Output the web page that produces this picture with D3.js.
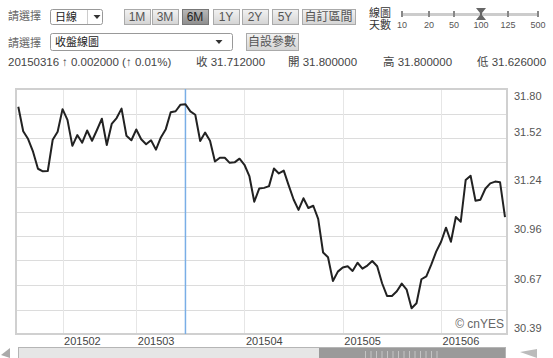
<!DOCTYPE html>
<html><head><meta charset="utf-8">
<script src="https://cdn.jsdelivr.net/npm/d3@7"></script>
<style>
html,body{margin:0;padding:0;background:#fff;}
svg{display:block;font-family:"Liberation Sans",Arial,"Noto Sans CJK TC",sans-serif;}
</style></head>
<body>
<svg id="c" width="553" height="358"></svg>
<script>
// ---- data ----
const values = [
31.698,31.557,31.512,31.439,31.341,31.326,31.328,31.508,31.554,31.684,
31.622,31.473,31.535,31.491,31.561,31.502,31.564,31.629,31.478,31.599,
31.633,31.687,31.531,31.505,31.567,31.511,31.482,31.505,31.451,31.521,
31.569,31.666,31.672,31.710,31.712,31.671,31.652,31.501,31.549,31.502,
31.383,31.404,31.404,31.375,31.378,31.399,31.364,31.299,31.151,31.227,
31.231,31.241,31.342,31.314,31.330,31.245,31.164,31.104,31.171,31.115,
31.128,31.053,30.859,30.832,30.695,30.749,30.773,30.780,30.753,30.800,
30.766,30.784,30.810,30.780,30.682,30.609,30.609,30.636,30.680,30.645,
30.538,30.567,30.705,30.722,30.789,30.864,30.921,31.002,30.921,31.063,
31.036,31.276,31.301,31.157,31.163,31.226,31.257,31.267,31.263,31.063
];
const monthLabels = ["201502","201503","201504","201505","201506"];
const monthStarts = [9,24,46,66,86];
const yTickLabels = ["31.80","31.52","31.24","30.96","30.67","30.39"];
const selectedIndex = 34;
const rangeButtons = ["1M","3M","6M","1Y","2Y","5Y"];
const activeButton = "6M";
const dayTicks = ["10","20","50","100","125","500"];
const activeDay = "100";
const infoDate = "20150316";
const infoChange = "↑ 0.002000 (↑ 0.01%)";
const infoItems = [["收","31.712000"],["開","31.800000"],["高","31.800000"],["低","31.626000"]];

const svg = d3.select("#c");
const L = 16, R = 507, T = 89, B = 334;

// ---- top controls ----
const txt = "#444";
function label(x, yy, s, opts={}) {
  return svg.append("text").attr("x", x).attr("y", yy).text(s)
    .attr("font-size", opts.size || 11).attr("fill", opts.fill || txt)
    .attr("text-anchor", opts.anchor || "start");
}
label(8, 20, "請選擇", {fill:"#666", size:11});
label(8, 47, "請選擇", {fill:"#666", size:11});

function dropdown(x, y0, w, h, s, arrowX) {
  svg.append("rect").attr("x", x+0.5).attr("y", y0+0.5).attr("width", w).attr("height", h)
    .attr("rx", 2).attr("fill", "#fff").attr("stroke", "#999");
  label(x+5, y0+h/2+4, s, {fill:"#222", size:11});
  svg.append("path").attr("d", `M${arrowX-3.5},${y0+h/2-1.5}h7l-3.5,4z`).attr("fill", "#333");
}
dropdown(50, 9, 52, 15, "日線", 97);
svg.append("line").attr("x1", 87.5).attr("x2", 87.5).attr("y1", 10).attr("y2", 24).attr("stroke", "#ccc");
dropdown(50, 33, 182, 17, "收盤線圖", 219);

const defs = svg.append("defs");
const g1 = defs.append("linearGradient").attr("id","btn").attr("x1",0).attr("x2",0).attr("y1",0).attr("y2",1);
g1.append("stop").attr("offset","0").attr("stop-color","#f2f2f2");
g1.append("stop").attr("offset","1").attr("stop-color","#d4d4d4");
const g2 = defs.append("linearGradient").attr("id","btnA").attr("x1",0).attr("x2",0).attr("y1",0).attr("y2",1);
g2.append("stop").attr("offset","0").attr("stop-color","#b8b8b8");
g2.append("stop").attr("offset","1").attr("stop-color","#8e8e8e");

function button(x, y0, w, h, s, active) {
  svg.append("rect").attr("x", x+0.5).attr("y", y0+0.5).attr("width", w).attr("height", h)
    .attr("fill", active ? "url(#btnA)" : "url(#btn)").attr("stroke", active ? "#777" : "#aaa");
  label(x+w/2, y0+h/2+4.5, s, {anchor:"middle", size: 12, fill: active ? "#222" : "#555"});
}
const btnX = [124, 152, 182, 213, 242, 272];
rangeButtons.forEach((b,i) => button(btnX[i], 9, 26, 15, b, b===activeButton));
button(302, 9, 53, 15, "自訂區間", false);
button(246, 33, 52, 17, "自設參數", false);

// slider
label(369, 17, "線圖", {fill:"#333", size:11});
label(369, 29, "天數", {fill:"#333", size:11});
const sliderX = [402, 429, 454, 481, 508, 538];
svg.append("rect").attr("x", 402).attr("y", 13).attr("width", 136).attr("height", 3).attr("fill", "#ccc");
dayTicks.forEach((d,i) => {
  svg.append("rect").attr("x", sliderX[i]-1).attr("y", 11).attr("width", 2).attr("height", 6).attr("fill", "#888");
  label(sliderX[i], 28, d, {anchor:"middle", size:9, fill:"#555"});
});
const ai = dayTicks.indexOf(activeDay);
svg.append("path").attr("d", `M${sliderX[ai]-5},8h10l-4,5v2l4,5h-10l4,-5v-2z`).attr("fill", "#666");

// info row
label(8, 66, infoDate, {size:11.5, fill:"#444"});
label(62, 66, infoChange, {size:11.5, fill:"#444"});
const infoX = [196, 288, 383, 477];
infoItems.forEach((it,i) => {
  label(infoX[i], 66, it[0] + " " + it[1], {size:11.5, fill:"#444"});
});

// ---- chart ----
const x = d3.scaleLinear().domain([0, values.length-1]).range([18.3, 505]);
const y = d3.scaleLinear().domain([30.39, 31.80]).range([B, T]);

// horizontal grid (10 intervals)
const gridVals = d3.range(11).map(i => 30.39 + i * (31.80 - 30.39) / 10);
svg.append("g").selectAll("line").data(gridVals).join("line")
  .attr("x1", L).attr("x2", R)
  .attr("y1", d => Math.round(y(d)) + 0.5).attr("y2", d => Math.round(y(d)) + 0.5)
  .attr("stroke", "#dcdcdc").attr("stroke-width", 1);

// vertical month grid
svg.append("g").selectAll("line").data(monthStarts).join("line")
  .attr("x1", d => Math.round(x(d)) + 0.5).attr("x2", d => Math.round(x(d)) + 0.5)
  .attr("y1", T).attr("y2", B)
  .attr("stroke", "#e6e6e6").attr("stroke-width", 1);

// frame
svg.append("rect").attr("x", L).attr("y", T).attr("width", R-L).attr("height", B-T)
  .attr("fill", "none").attr("stroke", "#d0d0d0").attr("stroke-width", 2);

// selected day line
svg.append("line").attr("x1", x(selectedIndex)).attr("x2", x(selectedIndex))
  .attr("y1", T).attr("y2", B).attr("stroke", "#79aee6").attr("stroke-width", 1.5);

// price line
const line = d3.line().x((d,i) => x(i)).y(d => y(d));
svg.append("path").datum(values).attr("d", line)
  .attr("fill", "none").attr("stroke", "#222").attr("stroke-width", 2)
  .attr("stroke-linejoin", "round");

// right axis labels
const yTickVals = yTickLabels.map(Number);
svg.append("g").selectAll("text").data(yTickVals).join("text")
  .attr("x", 514)
  .attr("y", (d,i) => i === 0 ? y(d) + 11 : y(d) - 2)
  .attr("font-size", 11).attr("fill", "#555")
  .text((d,i) => yTickLabels[i]);

// x labels
svg.append("g").selectAll("text").data(monthStarts).join("text")
  .attr("x", d => x(d) + 1.5).attr("y", 345)
  .attr("font-size", 11).attr("fill", "#444")
  .text((d,i) => monthLabels[i]);

// watermark
label(504, 328, "© cnYES", {anchor:"end", size:12, fill:"#666"});

// ---- scrollbar ----
svg.append("path").attr("d", "M1,355L10,348V358z").attr("fill", "#aaa");
svg.append("rect").attr("x", 18.5).attr("y", 347.5).attr("width", 487).attr("height", 14)
  .attr("fill", "#e6e6e6").attr("stroke", "#b5b5b5");
const hx0 = 319, hx1 = 505;
svg.append("rect").attr("x", hx0).attr("y", 348).attr("width", hx1-hx0).attr("height", 12)
  .attr("fill", "#9a9a9a");
svg.append("g").selectAll("line").data(d3.range(0, 14)).join("line")
  .attr("x1", d => 365 + d * 5.5 + 0.5).attr("x2", d => 365 + d * 5.5 + 0.5)
  .attr("y1", 351).attr("y2", 358).attr("stroke", "#c4c4c4");
svg.append("path").attr("d", "M520,352L537,349V358z").attr("fill", "#bbb");
</script>
</body></html>
